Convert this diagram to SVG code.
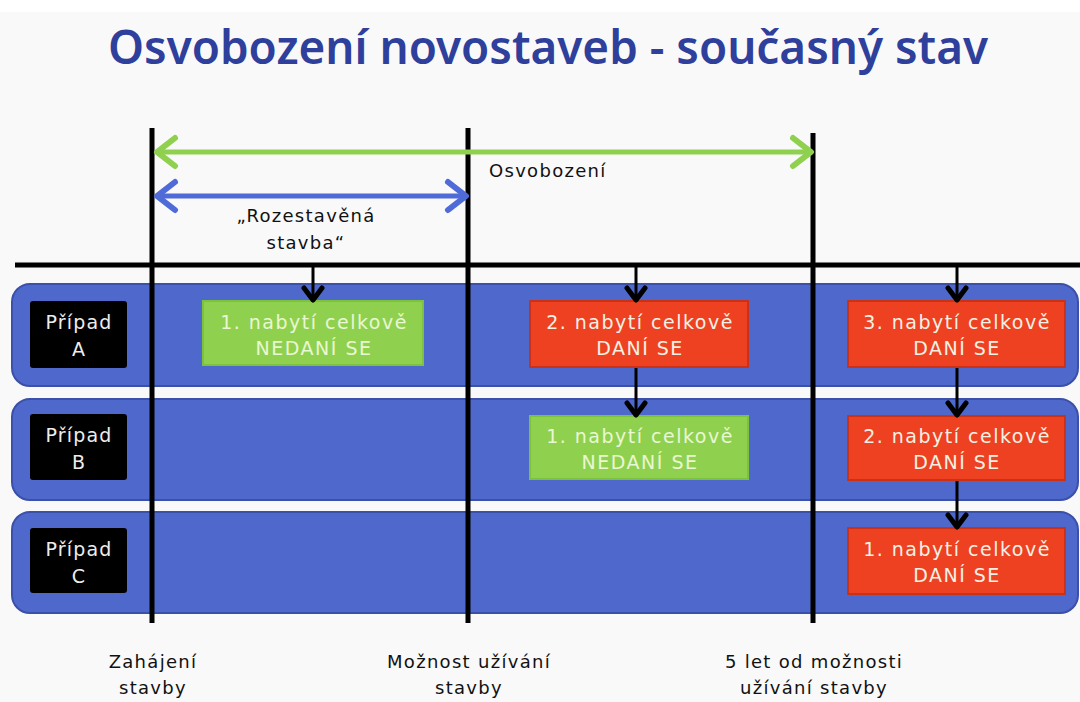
<svg xmlns="http://www.w3.org/2000/svg" width="1080" height="702" viewBox="0 0 1080 702">
<defs>
<marker id="gHead" markerUnits="userSpaceOnUse" markerWidth="30" markerHeight="40" refX="24" refY="18" orient="auto-start-reverse" viewBox="0 0 30 36"><path d="M6,4 L24,18 L6,32" fill="none" stroke="#8FD14F" stroke-width="6" stroke-linecap="round" stroke-linejoin="round"/></marker>
<marker id="bHead" markerUnits="userSpaceOnUse" markerWidth="30" markerHeight="40" refX="24" refY="18" orient="auto-start-reverse" viewBox="0 0 30 36"><path d="M6,4 L24,18 L6,32" fill="none" stroke="#4F6BD8" stroke-width="6" stroke-linecap="round" stroke-linejoin="round"/></marker>
<marker id="kHead" markerUnits="userSpaceOnUse" markerWidth="24" markerHeight="24" refX="18" refY="12" orient="auto" viewBox="0 0 24 24"><path d="M6,3 L18,12 L6,21" fill="none" stroke="#000" stroke-width="5" stroke-linecap="round" stroke-linejoin="round"/></marker>
</defs>
<style>
text{font-family:"DejaVu Sans","Noto Sans",sans-serif}
.title{font-family:"Noto Sans","DejaVu Sans",sans-serif;font-size:46px;font-weight:600;fill:#2E3F9C}
.lbl{font-size:18px;fill:#111;letter-spacing:1.3px}
.row{fill:#4E68CB;stroke:#3B50A8;stroke-width:2}
.case{fill:#000}
.caseT{font-size:19px;fill:#EDEDED;letter-spacing:1.2px}
.green{fill:#8FD14F;stroke:#7CC23F;stroke-width:2}
.red{fill:#EE4121;stroke:#C93218;stroke-width:2}
.boxT{font-size:19px;fill:#F4F1E4;letter-spacing:1.5px}
.greenT{font-size:19px;fill:#E9F7D2;letter-spacing:1.5px}
.vline{stroke:#000;stroke-width:5}
.arr{stroke:#000;stroke-width:3;fill:none}
</style>
<rect x="0" y="0" width="1080" height="702" fill="#FFFFFF"/>
<rect x="0" y="12" width="1080" height="690" fill="#F9F9F9"/>
<text class="title" x="548" y="64" text-anchor="middle" textLength="880" lengthAdjust="spacingAndGlyphs">Osvobození novostaveb - současný stav</text>

<g id="rowA"><rect class="row" x="12" y="284" width="1066" height="102" rx="18"/></g>
<g id="rowB"><rect class="row" x="12" y="399" width="1066" height="101" rx="18"/></g>
<g id="rowC"><rect class="row" x="12" y="512" width="1066" height="101" rx="18"/></g>

<g id="timeline">
<line x1="15" y1="265" x2="1080" y2="265" stroke="#000" stroke-width="5"/>
<line class="vline" x1="152" y1="128" x2="152" y2="623"/>
<line class="vline" x1="468" y1="128" x2="468" y2="623"/>
<line class="vline" x1="813" y1="133" x2="813" y2="623"/>
</g>

<g id="caseA"><rect class="case" x="30" y="301" width="97" height="67" rx="3"/><text class="caseT" x="79" y="329" text-anchor="middle">Případ</text><text class="caseT" x="79" y="356" text-anchor="middle">A</text></g>
<g id="caseB"><rect class="case" x="30" y="414" width="97" height="66" rx="3"/><text class="caseT" x="79" y="442" text-anchor="middle">Případ</text><text class="caseT" x="79" y="469" text-anchor="middle">B</text></g>
<g id="caseC"><rect class="case" x="30" y="528" width="97" height="65" rx="3"/><text class="caseT" x="79" y="556" text-anchor="middle">Případ</text><text class="caseT" x="79" y="583" text-anchor="middle">C</text></g>

<g id="A1"><rect class="green" x="203" y="301" width="220" height="64"/><text class="greenT" x="314" y="329" text-anchor="middle">1. nabytí celkově</text><text class="greenT" x="314" y="355" text-anchor="middle">NEDANÍ SE</text></g>
<g id="A2"><rect class="red" x="530" y="301" width="218" height="66"/><text class="boxT" x="640" y="329" text-anchor="middle">2. nabytí celkově</text><text class="boxT" x="640" y="355" text-anchor="middle">DANÍ SE</text></g>
<g id="A3"><rect class="red" x="848" y="301" width="217" height="66"/><text class="boxT" x="957" y="329" text-anchor="middle">3. nabytí celkově</text><text class="boxT" x="957" y="355" text-anchor="middle">DANÍ SE</text></g>
<g id="B1"><rect class="green" x="530" y="416" width="218" height="63"/><text class="greenT" x="640" y="443" text-anchor="middle">1. nabytí celkově</text><text class="greenT" x="640" y="469" text-anchor="middle">NEDANÍ SE</text></g>
<g id="B2"><rect class="red" x="848" y="416" width="217" height="64"/><text class="boxT" x="957" y="443" text-anchor="middle">2. nabytí celkově</text><text class="boxT" x="957" y="469" text-anchor="middle">DANÍ SE</text></g>
<g id="C1"><rect class="red" x="848" y="528" width="217" height="66"/><text class="boxT" x="957" y="556" text-anchor="middle">1. nabytí celkově</text><text class="boxT" x="957" y="582" text-anchor="middle">DANÍ SE</text></g>

<g id="connectors">
<line x1="157" y1="152" x2="811" y2="152" stroke="#8FD14F" stroke-width="5" marker-start="url(#gHead)" marker-end="url(#gHead)"/>
<line x1="157" y1="196" x2="466" y2="196" stroke="#4F6BD8" stroke-width="5" marker-start="url(#bHead)" marker-end="url(#bHead)"/>
<line class="arr" x1="313" y1="266" x2="313" y2="300" marker-end="url(#kHead)"/>
<line class="arr" x1="636" y1="266" x2="636" y2="300" marker-end="url(#kHead)"/>
<line class="arr" x1="957" y1="266" x2="957" y2="300" marker-end="url(#kHead)"/>
<line class="arr" x1="636" y1="368" x2="636" y2="415" marker-end="url(#kHead)"/>
<line class="arr" x1="957" y1="368" x2="957" y2="415" marker-end="url(#kHead)"/>
<line class="arr" x1="957" y1="481" x2="957" y2="527" marker-end="url(#kHead)"/>
</g>

<g id="labels">
<text class="lbl" x="489" y="177">Osvobození</text>
<text class="lbl" x="306" y="222" text-anchor="middle">„Rozestavěná</text>
<text class="lbl" x="306" y="249" text-anchor="middle">stavba“</text>
<text class="lbl" x="153" y="668" text-anchor="middle">Zahájení</text>
<text class="lbl" x="153" y="694" text-anchor="middle">stavby</text>
<text class="lbl" x="469" y="668" text-anchor="middle">Možnost užívání</text>
<text class="lbl" x="469" y="694" text-anchor="middle">stavby</text>
<text class="lbl" x="814" y="668" text-anchor="middle">5 let od možnosti</text>
<text class="lbl" x="814" y="694" text-anchor="middle">užívání stavby</text>
</g>
</svg>
